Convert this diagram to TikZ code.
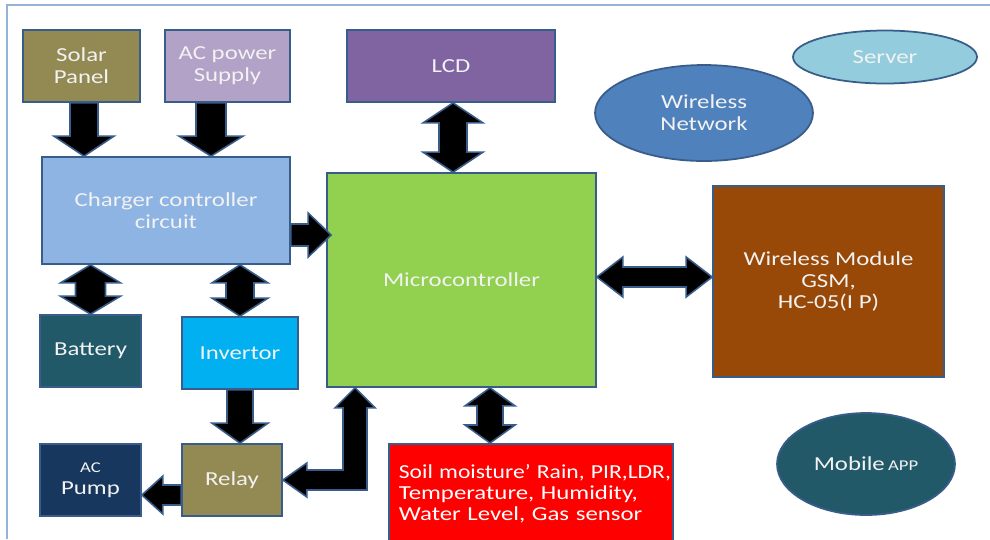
\documentclass[tikz,border=0pt]{standalone}
\usepackage{fontspec}
\setmainfont{Carlito}[FakeStretch=1.25]
\usepackage{xcolor}
\usepackage{tikz}
\usetikzlibrary{shapes.geometric, positioning, calc}

\definecolor{edgeblue}{HTML}{385D8A}
\definecolor{framecol}{HTML}{95B3D7}
\definecolor{solarcol}{HTML}{938953}
\definecolor{accol}{HTML}{B3A2C7}
\definecolor{lcdcol}{HTML}{8064A2}
\definecolor{servercol}{HTML}{93CDDD}
\definecolor{netcol}{HTML}{4F81BD}
\definecolor{chargecol}{HTML}{8EB4E3}
\definecolor{microcol}{HTML}{92D050}
\definecolor{modcol}{HTML}{984807}
\definecolor{battcol}{HTML}{215968}
\definecolor{invcol}{HTML}{00B0F0}
\definecolor{pumpcol}{HTML}{17375E}
\definecolor{sensorcol}{HTML}{FF0000}
\definecolor{labelcol}{HTML}{F2F2F2}

% block arrows: start, end, shaft half width, head half width, head length (in px)
\newcommand{\blockarrow}[5]{%
  \coordinate (ah) at ($(#2)!#5*0.02cm!(#1)$);
  \filldraw[arrowfill] ($(#1)!#3*0.02cm!90:(#2)$) -- ($(ah)!#3*0.02cm!90:(#2)$)
    -- ($(ah)!#4*0.02cm!90:(#2)$) -- (#2) -- ($(ah)!#4*0.02cm!-90:(#2)$)
    -- ($(ah)!#3*0.02cm!-90:(#2)$) -- ($(#1)!#3*0.02cm!-90:(#2)$) -- cycle;}
\newcommand{\dblarrow}[5]{%
  \coordinate (ha) at ($(#1)!#5*0.02cm!(#2)$);
  \coordinate (hb) at ($(#2)!#5*0.02cm!(#1)$);
  \filldraw[arrowfill] (#1) -- ($(ha)!#4*0.02cm!90:(#2)$) -- ($(ha)!#3*0.02cm!90:(#2)$)
    -- ($(hb)!#3*0.02cm!90:(#2)$) -- ($(hb)!#4*0.02cm!90:(#2)$) -- (#2)
    -- ($(hb)!#4*0.02cm!-90:(#2)$) -- ($(hb)!#3*0.02cm!-90:(#2)$)
    -- ($(ha)!#3*0.02cm!-90:(#2)$) -- ($(ha)!#4*0.02cm!-90:(#2)$) -- cycle;}

\begin{document}
\begin{tikzpicture}[
    x=0.02cm, y=-0.02cm,
    every node/.style={
        text=labelcol,
        align=center,
        font=\fontsize{11.3}{12.4}\selectfont
    },
    box/.style={draw=edgeblue, line width=1pt, rectangle},
    oval/.style={draw=edgeblue, line width=1pt, ellipse},
    arrowfill/.style={fill=black, draw=edgeblue, line width=0.9pt, line join=miter}
]
\useasboundingbox (0,0) rectangle (990,539);

% frame
\draw[framecol, line width=0.6pt] (7,539) -- (7,5) -- (990,5);

% Power side
\node[box, fill=solarcol, minimum width=2.34cm, minimum height=1.44cm] (solar) at (81.5,66) {Solar\\Panel};
\node[box, fill=accol, minimum width=2.5cm, minimum height=1.44cm] (acps) at (227.5,66) {AC power\\Supply};
\node[box, fill=chargecol, minimum width=4.96cm, minimum height=2.14cm] (charger) at (166,210.5) {Charger controller\\circuit};
\node[box, fill=battcol, minimum width=2.02cm, minimum height=1.44cm] (battery) at (90.5,351) {Battery};
\node[box, fill=invcol, minimum width=2.32cm, minimum height=1.44cm] (invertor) at (240,353) {Invertor};
\node[box, fill=pumpcol, minimum width=2.02cm, minimum height=1.44cm] (pump) at (90.5,480) {{\fontsize{8.5}{9.5}\selectfont AC}\\Pump};
\node[box, fill=solarcol, minimum width=2cm, minimum height=1.44cm] (relay) at (232,480) {Relay};

% Control side
\node[box, fill=lcdcol, minimum width=4.16cm, minimum height=1.44cm] (lcd) at (451,66) {LCD};
\node[box, fill=microcol, minimum width=5.38cm, minimum height=4.28cm] (micro) at (461.5,280) {Microcontroller};
\node[box, fill=modcol, minimum width=4.62cm, minimum height=3.82cm] (wmod) at (828.5,281.5) {Wireless Module\\GSM,\\HC-05(I P)};
\node[box, fill=sensorcol, text=white, anchor=north west, minimum width=5.68cm, minimum height=2cm,
      text width=5.28cm, align=left, inner xsep=0.2cm, font=\fontsize{11.3}{12}\selectfont] (sensor) at (388,443)
      {\scalebox{0.95}[1]{Soil moisture’ Rain, PIR,LDR,}\\Temperature, Humidity,\\Water Level, Gas sensor};

% Network side
\node[oval, fill=servercol, minimum width=3.68cm, minimum height=1.06cm] (server) at (885,57) {Server};
\node[oval, fill=netcol, minimum width=4.36cm, minimum height=1.92cm] (wnet) at (704,113) {Wireless\\Network};
\node[oval, fill=battcol, minimum width=3.56cm, minimum height=2.04cm] (mobile) at (866,464) {Mobile\,{\fontsize{8.5}{9.5}\selectfont APP}};

% Arrows
\coordinate (s1) at ($(solar.south)+(2.5,0)$);
\coordinate (s2) at (s1 |- charger.north);
\blockarrow{s1}{s2}{14}{30}{20}
\coordinate (a1) at ($(acps.south)+(-16.5,0)$);
\coordinate (a2) at (a1 |- charger.north);
\blockarrow{a1}{a2}{15}{32}{20}
\coordinate (c1) at ($(charger.east)+(0,24.5)$);
\coordinate (c2) at ($(c1 -| micro.west)+(5,0)$);
\blockarrow{c1}{c2}{11}{22}{23}
\coordinate (l1) at ($(lcd.south)+(2,0)$);
\coordinate (l2) at (l1 |- micro.north);
\dblarrow{l1}{l2}{14}{30}{20}
\coordinate (b1) at (battery.north |- charger.south);
\dblarrow{b1}{battery.north}{15}{30}{18}
\coordinate (i1) at (invertor.north |- charger.south);
\dblarrow{i1}{invertor.north}{14}{28}{18}
\coordinate (i2) at (invertor.south |- relay.north);
\blockarrow{invertor.south}{i2}{13}{28}{20}
\coordinate (w2) at ($(wmod.west)+(0,-4.5)$);
\coordinate (w1) at (w2 -| micro.east);
\dblarrow{w1}{w2}{10}{20}{26}
\coordinate (m1) at ($(micro.south)+(28.5,0)$);
\coordinate (m2) at (m1 |- sensor.north);
\dblarrow{m1}{m2}{13}{25}{18}
\coordinate (r1) at ($(relay.west)+(0,15)$);
\coordinate (r2) at (r1 -| pump.east);
\blockarrow{r1}{r2}{10}{19}{21}

% micro <-> relay, bent
\coordinate (rl) at ($(micro.south)+(-106.5,0)$);
\coordinate (rc) at (rl |- relay.east);
\filldraw[arrowfill] (rl) -- ++(20,20) -- ++(-8,0) -- ($(rc)+(12,10)$)
    -- ($(relay.east)+(24,10)$) -- ++(0,7) -- (relay.east) -- ($(relay.east)+(24,-17)$)
    -- ++(0,7) -- ($(rc)+(-12,-10)$) -- ($(rl)+(-12,20)$) -- ++(-8,0) -- cycle;

\end{tikzpicture}
\end{document}
